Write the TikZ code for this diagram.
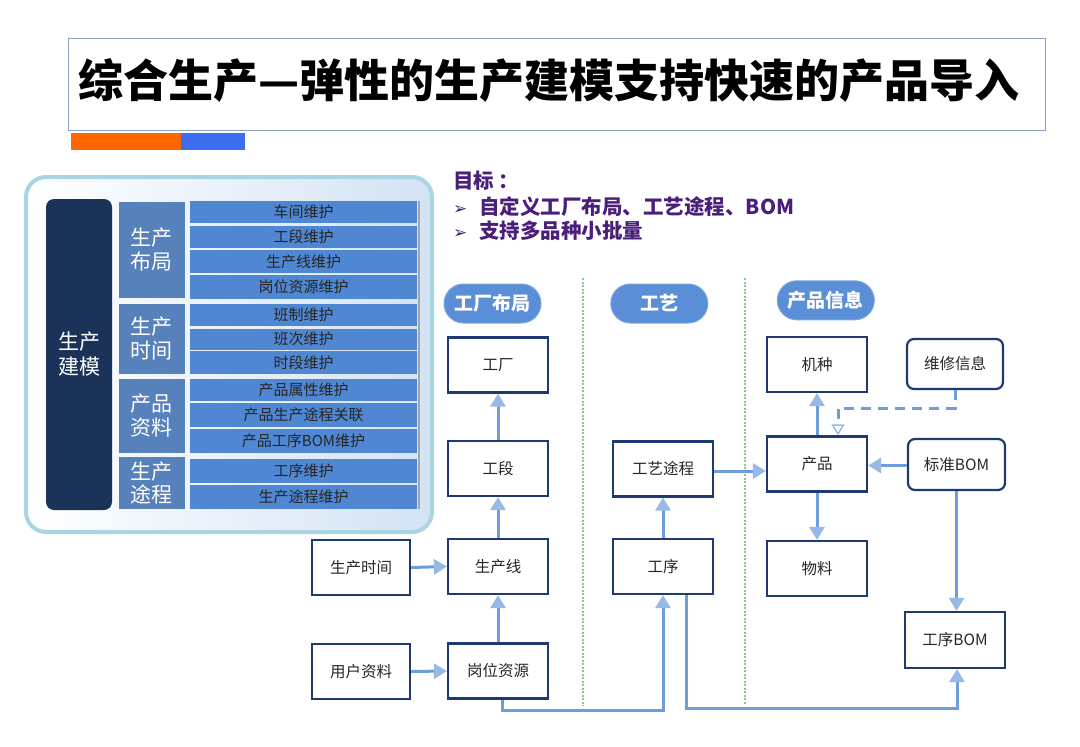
\documentclass[tikz,border=0pt]{standalone}
\usepackage{fontspec}
\setmainfont{Noto Sans CJK SC}
\newfontfamily\dejavu{DejaVu Sans}
\usetikzlibrary{arrows.meta,shapes.misc}
\definecolor{navy}{HTML}{1F3A70}
\definecolor{darknavy}{HTML}{1B3358}
\definecolor{catblue}{HTML}{5681BB}
\definecolor{itemblue}{HTML}{4F87D2}
\definecolor{pillblue}{HTML}{5A8ED7}
\definecolor{lineblue}{HTML}{6D9EDB}
\definecolor{tipblue}{HTML}{98B9E6}
\definecolor{titleframe}{HTML}{8EA3C6}
\definecolor{barorange}{HTML}{FF6600}
\definecolor{barblue}{HTML}{3D6EF2}
\definecolor{panelframe}{HTML}{A9D5E3}
\definecolor{panelshade}{HTML}{D3E3F4}
\definecolor{goalpurple}{HTML}{4A1F7A}
\definecolor{divgreen}{HTML}{8CC78C}
\definecolor{boxtext}{HTML}{262626}
\begin{document}
\begin{tikzpicture}[x=1pt,y=-1pt,
  box/.style={draw=navy,line width=2.2pt,fill=white,minimum width=100pt,minimum height=55pt,inner sep=0pt,text=boxtext,font=\fontsize{15.5}{18}\selectfont},
  rbox/.style={box,rounded corners=7pt},
  darkbox/.style={fill=darknavy,rounded corners=8pt,text=white,align=center,inner sep=0pt,font=\fontsize{21}{25}\selectfont},
  catbox/.style={fill=catblue,text=white,align=center,inner sep=0pt,minimum width=66pt,font=\fontsize{21}{24}\selectfont},
  itembox/.style={fill=itemblue,text=boxtext,inner sep=0pt,minimum width=227pt,font=\fontsize{15}{17}\selectfont},
  pill/.style={rounded rectangle,fill=pillblue,draw=pillblue!80!white,line width=1pt,text=white,minimum width=97pt,minimum height=39pt,inner sep=0pt,font=\fontsize{19}{22}\selectfont\bfseries},
  conn/.style={draw=lineblue,line width=3pt,-{Triangle[length=13pt,width=15pt,color=tipblue]}},
  dconn/.style={draw=lineblue,line width=3pt,dash pattern=on 10pt off 7pt,-{Triangle[length=11pt,width=13pt,open,color=tipblue,line width=1.5pt]}},
  divider/.style={draw=divgreen,line width=1.3pt,dash pattern=on 2pt off 1.5pt},
  goal/.style={anchor=west,text=goalpurple,inner sep=0pt,font=\fontsize{20.5}{24}\selectfont\bfseries}
]
\useasboundingbox (0,0) rectangle (1080,747);
\fill[white] (0,0) rectangle (1080,747);

% title
\node[draw=titleframe,line width=1.2pt,anchor=north west,minimum width=977pt,minimum height=92pt,inner sep=0pt] (titlebox) at (68,38) {};
\node[anchor=west,inner sep=0pt,font=\fontsize{45}{50}\selectfont\bfseries] (title) at (78,80) {综合生产—弹性的生产建模支持快速的产品导入};
\fill[barorange] (71,133) rectangle (181,150);
\fill[barblue] (181,133) rectangle (245,150);

% left panel
\draw[panelframe,line width=4pt,rounded corners=20pt,left color=white,right color=panelshade] (26,177) rectangle (432,532);
\node[darkbox,minimum width=66pt,minimum height=311pt] (jm) at (79,354.5) {生产\\建模};
\node[catbox,minimum height=96pt] (c1) at (151.5,249.5) {生产\\布局};
\node[catbox,minimum height=70pt] (c2) at (151.5,339) {生产\\时间};
\node[catbox,minimum height=73.5pt] (c3) at (151.5,415.75) {产品\\资料};
\node[catbox,minimum height=51.5pt,font=\fontsize{21}{23}\selectfont] (c4) at (151.5,482.75) {生产\\途程};
\foreach \t/\h/\n/\txt in {200.5/22/i1/车间维护,225.5/22.5/i2/工段维护,250/22.5/i3/生产线维护,275/23.5/i4/岗位资源维护,304/22/i5/班制维护,328.5/21/i6/班次维护,351/23/i7/时段维护,379/22/i8/产品属性维护,403/24/i9/产品生产途程关联,429/24/i10/产品工序BOM维护,458.5/24/i11/工序维护,485/23.5/i12/生产途程维护}
  \node[itembox,anchor=north,minimum height=\h pt] (\n) at (303.5,\t) {\txt};
\draw[gray!70,line width=1.5pt] (i1.north east) ++(2,0) -- ([xshift=2pt]i12.south east);

% goals
\node[goal] (goalt) at (453,181) {目标\hspace{4pt}：};
\node[goal] (g1) at (453,207) {{\dejavu\fontsize{17}{18}\selectfont ➢}\hspace{12pt}自定义工厂布局、工艺途程、BOM};
\node[goal] (g2) at (453,231) {{\dejavu\fontsize{17}{18}\selectfont ➢}\hspace{12pt}支持多品种小批量};

% pills
\node[pill] (p1) at (492.5,303.5) {工厂布局};
\node[pill] (p2) at (659.3,303.5) {工艺};
\node[pill] (p3) at (825.8,300.3) {产品信息};

% dividers
\draw[divider] (583,278) -- (583,706);
\draw[divider] (745,278) -- (745,705);

% boxes
\node[box] (gc) at (498,365) {工厂};
\node[box] (gd) at (498,468.5) {工段};
\node[box] (scx) at (498,566.5) {生产线};
\node[box] (gwzy) at (498,671) {岗位资源};
\node[box,minimum width=98pt] (scsj) at (361,567.5) {生产时间};
\node[box,minimum width=98pt] (yhzl) at (361,671.5) {用户资料};
\node[box] (gylc) at (663,469) {工艺途程};
\node[box] (gx) at (663,566.5) {工序};
\node[box] (jz) at (817,364.5) {机种};
\node[box] (cp) at (817,464) {产品};
\node[box] (wl) at (817,568.5) {物料};
\node[rbox,minimum width=96pt,minimum height=50pt] (wx) at (955,364) {维修信息};
\node[rbox,minimum width=97pt,minimum height=51pt] (bz) at (956.5,464.5) {标准BOM};
\node[box,minimum height=56pt] (gxbom) at (955,640) {工序BOM};

% connectors
\draw[conn] (gd.north) -- (gc.south);
\draw[conn] (scx.north) -- (gd.south);
\draw[conn] (gwzy.north) -- (scx.south);
\draw[conn] (scsj.east) -- (scx.west);
\draw[conn] (yhzl.east) -- (gwzy.west);
\draw[conn] (gx.north) -- (gylc.south);
\draw[conn] ([yshift=-2pt]gylc.east) -- ([yshift=-2pt]gylc.east -| cp.west);
\draw[conn] (cp.north) -- (jz.south);
\draw[conn] (cp.south) -- (wl.north);
\draw[conn] ([yshift=-1pt]bz.west) -- ([yshift=-1pt]bz.west -| cp.east);
\draw[conn] (bz.south) -- (bz.south |- gxbom.north);
\draw[dconn] (wx.south) -- ++(0,18) -| ([xshift=21pt]cp.north);
\draw[conn] ([xshift=4pt]gwzy.south) -- ++(0,11) -| (gx.south);
\draw[conn] ([xshift=23pt]gx.south) -- ++(0,113) -| ([xshift=2pt]gxbom.south);
\end{tikzpicture}
\end{document}
